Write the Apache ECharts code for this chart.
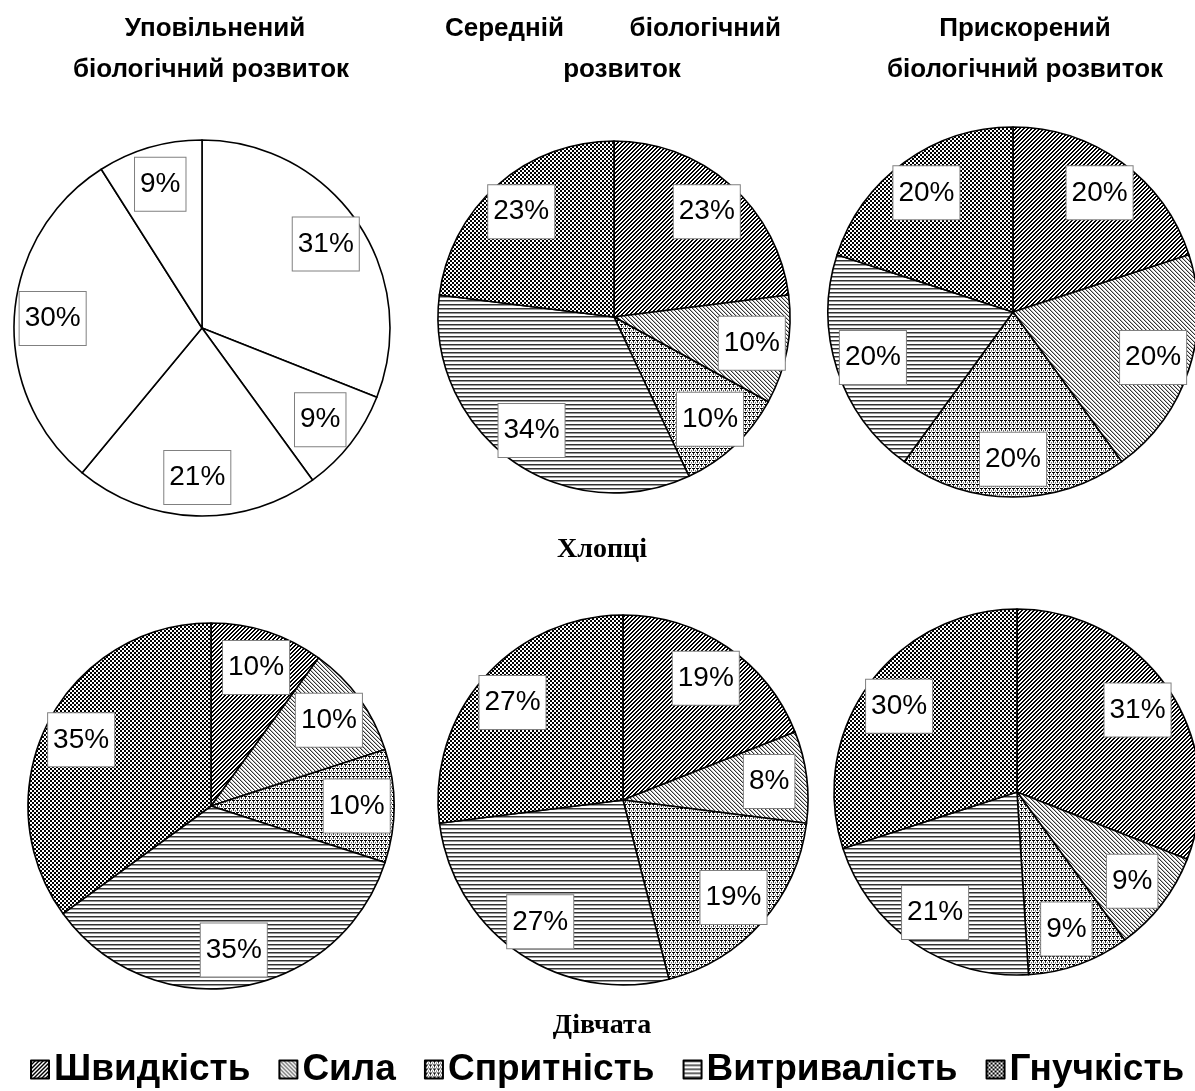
<!DOCTYPE html>
<html><head><meta charset="utf-8">
<script src="https://cdn.jsdelivr.net/npm/echarts@6/dist/echarts.min.js"></script>
<style>html,body{margin:0;padding:0;background:#fff}#c{width:1195px;height:1091px}</style>
</head><body><div id="c"></div>
<script>
// ---- data ----
const qualities = ['Швидкість', 'Сила', 'Спритність', 'Витривалість', 'Гнучкість'];
const colTitleLine1 = ['Уповільнений', 'Середній', 'Прискорений'];
const colTitleLine1b = ['', 'біологічний', ''];
const colTitleLine2 = ['біологічний розвиток', 'розвиток', 'біологічний розвиток'];
const rowTitles = ['Хлопці', 'Дівчата'];
const boysSlow = [31, 9, 21, 30, 9];
const boysMid = [23, 10, 10, 34, 23];
const boysFast = [20, 20, 20, 20, 20];
const girlsSlow = [10, 10, 10, 35, 35];
const girlsMid = [19, 8, 19, 27, 27];
const girlsFast = [31, 9, 9, 21, 30];

// ---- patterns ----
function tile(w, h, draw) {
  const c = document.createElement('canvas');
  c.width = w; c.height = h;
  const g = c.getContext('2d');
  g.fillStyle = '#fff'; g.fillRect(0, 0, w, h);
  draw(g);
  return { image: c, repeat: 'repeat' };
}
function px(g, x, y, col) { g.fillStyle = col; g.fillRect(x, y, 1, 1); }
const patSpeed = tile(4, 4, g => { for (let i = 0; i < 4; i++) { px(g, i, 3 - i, '#000'); px(g, (i + 1) % 4, 3 - i, '#000'); } });
const patStrength = tile(4, 4, g => { for (let i = 0; i < 4; i++) { px(g, i, i, '#333'); px(g, (i + 1) % 4, i, '#bbb'); } });
const patAgility = tile(4, 4, g => { px(g, 0, 0, '#000'); px(g, 1, 0, '#000'); px(g, 2, 0, '#000'); px(g, 1, 1, '#222'); px(g, 1, 2, '#444'); px(g, 3, 2, '#777'); px(g, 3, 3, '#999'); });
const patEndurance = tile(1, 4, g => { px(g, 0, 0, '#333'); px(g, 0, 1, '#999'); });
const patFlex = tile(4, 4, g => { g.fillStyle = '#000'; g.fillRect(0, 0, 4, 4); g.fillStyle = '#fff'; g.fillRect(0, 0, 2, 2); g.fillRect(2, 2, 2, 2); });
const patterns = [patSpeed, patStrength, patAgility, patEndurance, patFlex];

function items(values, white) {
  return values.map((v, i) => ({
    name: qualities[i], value: v,
    itemStyle: { color: white ? '#fff' : patterns[i] }
  }));
}

const pies = [
  { vals: boysMid, c: [614, 317], r: 176 },
  { vals: boysFast, c: [1013, 312], r: 185 },
  { vals: girlsSlow, c: [211, 806], r: 183 },
  { vals: girlsMid, c: [623, 800], r: 185 },
  { vals: girlsFast, c: [1017, 792], r: 183 },
  { vals: boysSlow, c: [202, 328], r: 188, white: true }
];

const series = [];
pies.forEach(p => {
  series.push({
    type: 'pie', center: p.c, radius: [0, p.r], startAngle: 90, clockwise: true,
    data: items(p.vals, p.white), label: { show: false }, labelLine: { show: false },
    itemStyle: { borderColor: '#000', borderWidth: 1.6 },
    emphasis: { disabled: true }, animation: false
  });
});
pies.forEach(p => {
  series.push({
    type: 'pie', center: p.c, radius: [p.r * 0.56, p.r], startAngle: 90, clockwise: true,
    data: p.vals.map((v, i) => ({ name: qualities[i], value: v })),
    itemStyle: { color: 'rgba(0,0,0,0)', borderWidth: 0 },
    label: {
      show: true, position: 'inside', formatter: '{c}%', color: '#000',
      fontSize: 28, fontFamily: 'Liberation Sans, Arial, sans-serif', lineHeight: 31,
      backgroundColor: '#fff', borderColor: '#808080', borderWidth: 1, padding: [11, 5, 11, 5]
    },
    labelLine: { show: false }, silent: true, emphasis: { disabled: true }, animation: false
  });
});

const tStyle = { fontFamily: 'Liberation Sans, Arial, sans-serif', fontWeight: 'bold', fontSize: 26, color: '#000' };
const rStyle = { fontFamily: 'Liberation Serif, Times New Roman, serif', fontWeight: 'bold', fontSize: 28, color: '#000' };
const titles = [
  { text: colTitleLine1[0], left: 210, top: 11, textAlign: 'center', textStyle: tStyle },
  { text: colTitleLine2[0], left: 206, top: 52, textAlign: 'center', textStyle: tStyle },
  { text: colTitleLine1[1], left: 440, top: 11, textAlign: 'left', textStyle: tStyle },
  { text: colTitleLine1b[1], left: 776, top: 11, textAlign: 'right', textStyle: tStyle },
  { text: colTitleLine2[1], left: 617, top: 52, textAlign: 'center', textStyle: tStyle },
  { text: colTitleLine1[2], left: 1020, top: 11, textAlign: 'center', textStyle: tStyle },
  { text: colTitleLine2[2], left: 1020, top: 52, textAlign: 'center', textStyle: tStyle },
  { text: rowTitles[0], left: 597, top: 531, textAlign: 'center', textStyle: rStyle },
  { text: rowTitles[1], left: 597, top: 1007, textAlign: 'center', textStyle: rStyle }
];

const chart = echarts.init(document.getElementById('c'), null, { renderer: 'canvas' });
chart.setOption({
  backgroundColor: '#fff',
  animation: false,
  title: titles,
  legend: {
    data: qualities, left: 25, top: 1046, itemGap: 28, itemWidth: 18, itemHeight: 18, icon: 'rect',
    textStyle: { fontFamily: 'Liberation Sans, Arial, sans-serif', fontWeight: 'bold', fontSize: 37, color: '#000' },
    selectedMode: false
  },
  series: series
});
</script></body></html>
